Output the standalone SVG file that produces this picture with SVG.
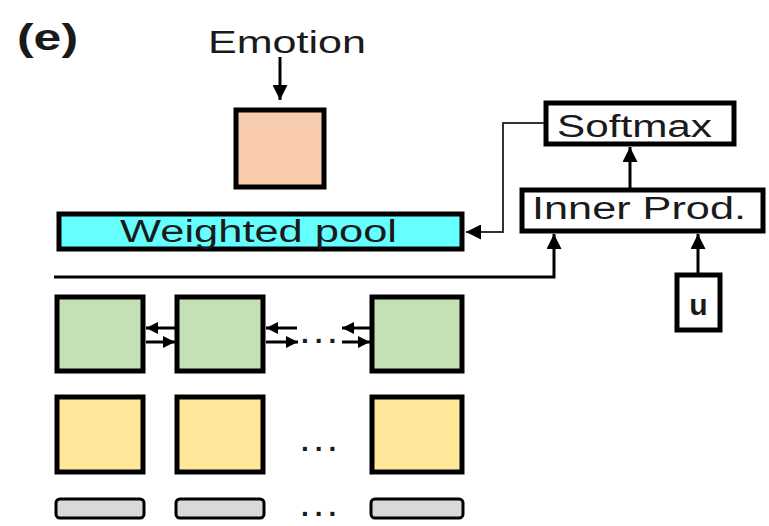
<svg xmlns="http://www.w3.org/2000/svg" width="769" height="526" viewBox="0 0 769 526">
<defs>
<style>
.t{font-family:"Liberation Sans",Arial,sans-serif;fill:#1a1a1a}
.box{stroke:#000;stroke-width:5}
.ln{fill:none;stroke:#000;stroke-width:3}
.thin{fill:none;stroke:#333;stroke-width:2}
.dots{font-family:"Liberation Sans",Arial,sans-serif;font-weight:bold;font-size:28px;fill:#1a1a1a;letter-spacing:6px}
</style>
<marker id="ah" viewBox="0 0 10 10" refX="10" refY="5" markerWidth="12" markerHeight="12" markerUnits="userSpaceOnUse" orient="auto">
<path d="M0,0 L10,5 L0,10 Z" fill="#000"/>
</marker>
<marker id="ahb" viewBox="0 0 10 10" refX="10" refY="5" markerWidth="15" markerHeight="15" markerUnits="userSpaceOnUse" orient="auto">
<path d="M0,0 L10,5 L0,10 Z" fill="#000"/>
</marker>
</defs>
<rect width="769" height="526" fill="#fff"/>
<text class="t" x="17" y="50" font-size="36" font-weight="bold" textLength="61" lengthAdjust="spacingAndGlyphs">(e)</text>
<g id="emotion-label"><text class="t" x="208" y="53" font-size="31" textLength="158" lengthAdjust="spacingAndGlyphs">Emotion</text></g>
<g id="emotion"><rect class="box" x="236" y="110" width="88" height="77" fill="#F8CBAD"/></g>
<g id="pool"><rect class="box" x="59" y="214" width="403" height="35" fill="#66FFFF"/>
<text class="t" x="120" y="242" font-size="31" textLength="277" lengthAdjust="spacingAndGlyphs">Weighted pool</text></g>
<g id="softmax"><rect class="box" x="546" y="103" width="188" height="41" fill="#fff"/>
<text class="t" x="557" y="137" font-size="31" textLength="155" lengthAdjust="spacingAndGlyphs">Softmax</text></g>
<g id="inner"><rect class="box" x="522" y="190" width="241" height="41" fill="#fff"/>
<text class="t" x="532" y="219" font-size="31" textLength="214" lengthAdjust="spacingAndGlyphs">Inner Prod.</text></g>
<g id="u"><rect class="box" x="677" y="275" width="43" height="55" fill="#fff"/>
<text class="t" x="698.5" y="315" font-size="30" font-weight="bold" text-anchor="middle">u</text></g>
<g id="green1"><rect class="box" x="57" y="297" width="86" height="74" fill="#C5E0B4"/></g>
<g id="green2"><rect class="box" x="177" y="297" width="86" height="74" fill="#C5E0B4"/></g>
<g id="green3"><rect class="box" x="372" y="297" width="90" height="74" fill="#C5E0B4"/></g>
<g id="yellow1"><rect class="box" x="57" y="397" width="86" height="75" fill="#FFE699"/></g>
<g id="yellow2"><rect class="box" x="177" y="397" width="86" height="75" fill="#FFE699"/></g>
<g id="yellow3"><rect class="box" x="372" y="397" width="90" height="75" fill="#FFE699"/></g>
<g id="grey1"><rect x="56" y="499" width="88" height="19" rx="4" fill="#D9D9D9" stroke="#000" stroke-width="3"/></g>
<g id="grey2"><rect x="176" y="499" width="88" height="19" rx="4" fill="#D9D9D9" stroke="#000" stroke-width="3"/></g>
<g id="grey3"><rect x="371" y="499" width="92" height="19" rx="4" fill="#D9D9D9" stroke="#000" stroke-width="3"/></g>
<g id="dots">
<text class="dots" x="301" y="343">...</text>
<text class="dots" x="301" y="451">...</text>
<text class="dots" x="301" y="516">...</text>
</g>
<g id="connectors">
<line class="ln" x1="280" y1="57" x2="280" y2="100" marker-end="url(#ahb)"/>
<line class="ln" x1="630" y1="188" x2="630" y2="147" marker-end="url(#ahb)"/>
<polyline class="thin" points="544,123 503,123 503,232 466,232" marker-end="url(#ahb)"/>
<polyline class="ln" points="54,277 554,277 554,234" marker-end="url(#ahb)"/>
<line class="ln" x1="698" y1="273" x2="698" y2="234" marker-end="url(#ahb)"/>
<line class="ln" x1="175" y1="328" x2="146" y2="328" marker-end="url(#ah)"/>
<line class="ln" x1="146" y1="342" x2="175" y2="342" marker-end="url(#ah)"/>
<line class="ln" x1="297" y1="328" x2="266" y2="328" marker-end="url(#ah)"/>
<line class="ln" x1="266" y1="342" x2="298" y2="342" marker-end="url(#ah)"/>
<line class="ln" x1="370" y1="328" x2="342" y2="328" marker-end="url(#ah)"/>
<line class="ln" x1="342" y1="342" x2="370" y2="342" marker-end="url(#ah)"/>
</g>
</svg>
